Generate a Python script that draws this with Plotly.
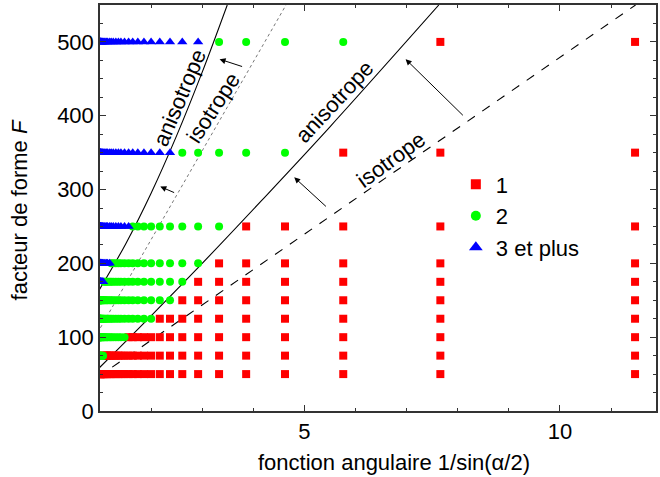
import plotly.graph_objects as go

# x = 1/sin(alpha/2) for the tested angles
x_vals = [11.47, 7.66, 5.76, 4.62, 3.86, 3.33, 2.92, 2.61, 2.37, 2.17, 2.00,
          1.86, 1.74, 1.64, 1.56, 1.48, 1.41, 1.36, 1.31, 1.26, 1.22, 1.19,
          1.15, 1.13, 1.10, 1.08, 1.06, 1.05, 1.035, 1.024, 1.015, 1.009,
          1.004, 1.001, 1.000]
# shape factor rows
F_rows = [50, 75, 100, 125, 150, 175, 200, 250, 350, 500]
# number of points of each class per row (ordered from large x to small x)
n_red = [35, 26, 15, 10, 8, 7, 6, 5, 3, 2]
n_green = [0, 9, 20, 25, 27, 19, 15, 9, 5, 4]
n_blue = [0, 0, 0, 0, 0, 9, 14, 21, 27, 29]

# boundary curves
aniso_lo_x = [0.95, 2.0, 3.0, 4.16, 5.5, 7.63]
aniso_lo_F = [56, 129, 200, 285, 385, 550]
iso_lo_x = [0.95, 11.48]
iso_lo_F = [45.5, 550]
aniso_hi_x = [0.95, 1.5, 2.0, 2.5, 3.0, 3.49]
aniso_hi_F = [160, 226, 295, 373, 459, 550]
iso_hi_x = [0.95, 4.64]
iso_hi_F = [105.7, 550]

# arrows: (tail x, tail F, head x, head F)
arrows = [(3.81, 466, 3.34, 476.6), (2.48, 295, 2.18, 304),
          (8.13, 398.6, 6.98, 476.6), (5.45, 275.3, 4.80, 316.6)]
# labels: (text, x, F, angle)
labels = [("anisotrope", 2.56, 424.7, -67), ("isotrope", 3.22, 411, -57),
          ("anisotrope", 5.59, 419.3, -47), ("isotrope", 6.70, 340.5, -36)]

FONT = "Liberation Sans, Arial, sans-serif"
FS = 22

def collect(start_counts, counts):
    xs, ys = [], []
    for F, s, n in zip(F_rows, start_counts, counts):
        for xv in x_vals[s:s + n]:
            xs.append(xv)
            ys.append(F)
    return xs, ys

start_red = [0] * len(F_rows)
start_green = n_red
start_blue = [r + g for r, g in zip(n_red, n_green)]

xr, yr = collect(start_red, n_red)
xg, yg = collect(start_green, n_green)
xb, yb = collect(start_blue, n_blue)

fig = go.Figure()

line_style = dict(color="black", width=1.1)
fig.add_trace(go.Scatter(x=aniso_hi_x, y=aniso_hi_F, mode="lines", line=dict(shape="spline", **line_style), showlegend=False))
fig.add_trace(go.Scatter(x=iso_hi_x, y=iso_hi_F, mode="lines", line=dict(color="#777777", width=1, dash="dot"), showlegend=False))
fig.add_trace(go.Scatter(x=aniso_lo_x, y=aniso_lo_F, mode="lines", line=dict(shape="spline", **line_style), showlegend=False))
fig.add_trace(go.Scatter(x=iso_lo_x, y=iso_lo_F, mode="lines", line=dict(color="black", width=1.1, dash="dash"), showlegend=False))

msize = 8
fig.add_trace(go.Scatter(x=xr, y=yr, mode="markers", marker=dict(symbol="square", color="#FF0000", size=msize), showlegend=False))
fig.add_trace(go.Scatter(x=xg, y=yg, mode="markers", marker=dict(symbol="circle", color="#00FF00", size=msize), showlegend=False))
fig.add_trace(go.Scatter(x=xb, y=yb, mode="markers", marker=dict(symbol="triangle-up", color="#0000FF", size=msize + 1), showlegend=False))

# legend entries
fig.add_trace(go.Scatter(x=[None], y=[None], mode="markers", name="1", marker=dict(symbol="square", color="#FF0000", size=10)))
fig.add_trace(go.Scatter(x=[None], y=[None], mode="markers", name="2", marker=dict(symbol="circle", color="#00FF00", size=10)))
fig.add_trace(go.Scatter(x=[None], y=[None], mode="markers", name="3 et plus", marker=dict(symbol="triangle-up", color="#0000FF", size=12)))

annotations = []
for tx, tF, hx, hF in arrows:
    annotations.append(dict(x=hx, y=hF, ax=tx, ay=tF, xref="x", yref="y", axref="x", ayref="y",
                            showarrow=True, arrowhead=2, arrowsize=1.2, arrowwidth=1, arrowcolor="black", text=""))
for t, lx, lF, ang in labels:
    annotations.append(dict(x=lx, y=lF, xref="x", yref="y", text=t, showarrow=False, textangle=ang,
                            font=dict(family=FONT, size=FS, color="black"), xanchor="center", yanchor="middle"))

annotations.append(dict(x=-0.145, y=0.495, xref="paper", yref="paper", text="facteur de forme <i>F</i>",
                        textangle=-90, showarrow=False, font=dict(family=FONT, size=FS, color="black"),
                        xanchor="center", yanchor="middle"))
annotations.append(dict(x=0.529, y=-0.126, xref="paper", yref="paper", text="fonction angulaire 1/sin(α/2)",
                        showarrow=False, font=dict(family=FONT, size=FS, color="black"),
                        xanchor="center", yanchor="middle"))

axis_common = dict(showgrid=False, zeroline=False, showline=True, mirror="ticks", linecolor="#333333",
                   linewidth=1.5, ticks="inside", ticklen=6, tickwidth=1.2, tickcolor="#333333",
                   tickfont=dict(family=FONT, size=FS, color="black"))

fig.update_layout(
    width=660, height=477,
    margin=dict(l=100, r=2, t=5, b=66),
    paper_bgcolor="white", plot_bgcolor="white",
    xaxis=dict(range=[1, 11.88], tickmode="linear", tick0=0, dtick=5,
               minor=dict(ticks="inside", ticklen=3, dtick=1, tick0=0, tickcolor="#333333", showgrid=False),
               **axis_common),
    yaxis=dict(range=[0, 550], tickmode="linear", tick0=0, dtick=100,
               minor=dict(ticks="inside", ticklen=3, dtick=25, tick0=0, tickcolor="#333333", showgrid=False),
               **axis_common),
    legend=dict(x=0.64, y=0.61, xanchor="left", yanchor="top", bgcolor="rgba(0,0,0,0)",
                font=dict(family=FONT, size=FS, color="black"), itemsizing="trace", tracegroupgap=0),
    annotations=annotations,
    showlegend=True,
)

fig.write_html("out.html", config={"displayModeBar": False},
               post_script="document.body.style.margin='0px';document.body.style.overflow='hidden';")
